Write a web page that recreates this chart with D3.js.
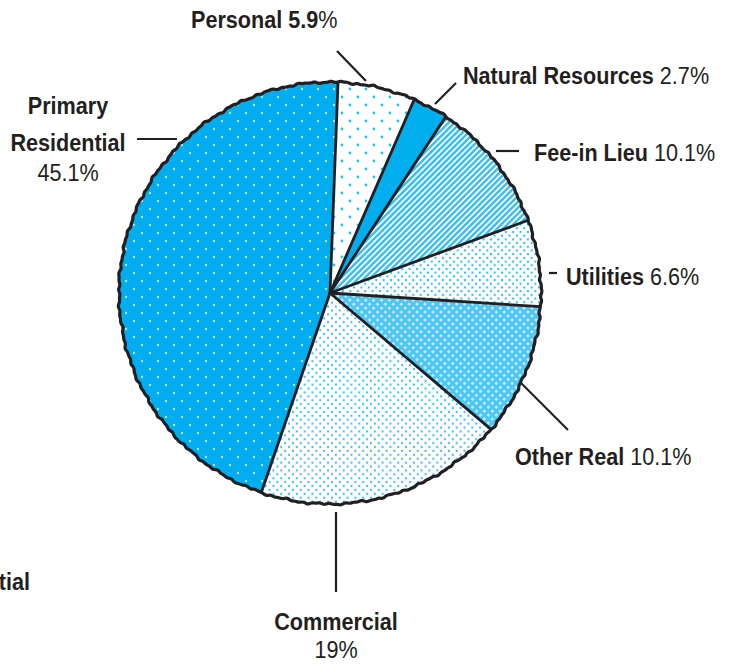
<!DOCTYPE html>
<html>
<head>
<meta charset="utf-8">
<script src="https://cdn.jsdelivr.net/npm/d3@7"></script>
<style>
  body { margin: 0; background: #fff; }
  text { font-family: "Liberation Sans", Arial, Helvetica, sans-serif; fill: #231f20; }
</style>
</head>
<body>
<script>
// values
const categories = ["Personal", "Natural Resources", "Fee-in Lieu", "Utilities", "Other Real", "Commercial", "Primary Residential"];
const shares = [5.9, 2.7, 10.1, 6.6, 10.1, 19, 45.1];
const shareLabels = ["5.9%", "2.7%", "10.1%", "6.6%", "10.1%", "19%", "45.1%"];
const fills = ["url(#dotsSparse)", "#00aeef", "url(#stripes)", "url(#dotsDense)", "url(#cross)", "url(#dotsDense2)", "url(#dotsOnBlue)"];

// label placement (layout only)
const labelLayout = [
  { lines: [[["Personal 5.9", "b"], ["%", "r"]]], x: 191, y: 28, anchor: "start", leader: [[337, 51], [366, 81]] },
  { lines: [[["Natural Resources", "b"], [" 2.7%", "r"]]], x: 463, y: 84, anchor: "start", leader: [[456, 83], [435, 104]] },
  { lines: [[["Fee-in Lieu", "b"], [" 10.1%", "r"]]], x: 534, y: 161, anchor: "start", leader: [[496, 151], [519, 151]] },
  { lines: [[["Utilities", "b"], [" 6.6%", "r"]]], x: 566, y: 285, anchor: "start", leader: [[549, 273], [557, 273]] },
  { lines: [[["Other Real", "b"], [" 10.1%", "r"]]], x: 515, y: 465, anchor: "start", leader: [[520, 382], [568, 430]] },
  { lines: [[["Commercial", "b"]], [["19%", "r"]]], x: 336, y: 630, anchor: "middle", leader: [[336, 512], [336, 592]] },
  { lines: [[["Primary", "b"]], [["Residential", "b"]], [["45.1%", "r"]]], x: 68, y: 114, anchor: "middle", leader: [[137, 139], [177, 139]], gaps: [37, 30] }
];

const W = 734, H = 665;
const cx = 330, cy = 293, R = 211;

const svg = d3.select("body").append("svg")
  .attr("width", W)
  .attr("height", H);

const defs = svg.append("defs");
const blue = "#00aeef";
const dotBlue = "#33bcef";

function dotPattern(id, size, r, bg, fg) {
  const p = defs.append("pattern").attr("id", id)
    .attr("patternUnits", "userSpaceOnUse")
    .attr("width", size).attr("height", size);
  p.append("rect").attr("width", size).attr("height", size).attr("fill", bg);
  p.append("circle").attr("cx", size / 4).attr("cy", size / 4).attr("r", r).attr("fill", fg);
  p.append("circle").attr("cx", size * 3 / 4).attr("cy", size * 3 / 4).attr("r", r).attr("fill", fg);
}
dotPattern("dotsOnBlue", 16, 1.2, blue, "#a9e4f9");
dotPattern("dotsSparse", 16, 1.4, "#fff", dotBlue);
dotPattern("dotsDense", 7.4, 1.15, "#fff", dotBlue);
dotPattern("dotsDense2", 7.8, 1.1, "#fff", dotBlue);

const st = defs.append("pattern").attr("id", "stripes")
  .attr("patternUnits", "userSpaceOnUse")
  .attr("width", 4.2).attr("height", 4.2)
  .attr("patternTransform", "rotate(-45)");
st.append("rect").attr("width", 4.2).attr("height", 4.2).attr("fill", "#fff");
st.append("rect").attr("width", 4.2).attr("height", 2.5).attr("fill", "#3ec0f0");

const cr = defs.append("pattern").attr("id", "cross")
  .attr("patternUnits", "userSpaceOnUse")
  .attr("width", 5.6).attr("height", 5.6)
  .attr("patternTransform", "rotate(45)");
cr.append("rect").attr("width", 5.6).attr("height", 5.6).attr("fill", "#4ec5f2");
cr.append("rect").attr("x", 1).attr("y", 1).attr("width", 2.6).attr("height", 2.6).attr("fill", "#c9eefb");

const data = categories.map((c, i) => ({ name: c, value: shares[i], fill: fills[i] }));

const start = 0.038;
const pie = d3.pie().sort(null).value(d => d.value)
  .startAngle(start).endAngle(start + 2 * Math.PI);
const arcs = pie(data);

const arc = d3.arc().innerRadius(0).outerRadius(R);

const g = svg.append("g").attr("transform", `translate(${cx},${cy})`);

g.selectAll("path.slice")
  .data(arcs)
  .enter()
  .append("path")
  .attr("class", "slice")
  .attr("d", arc)
  .attr("fill", d => d.data.fill)
  .attr("stroke", d => d.data.fill.startsWith("#") ? d.data.fill : "none")
  .attr("stroke-width", 0.5);

// separators
g.selectAll("line.sep")
  .data(arcs)
  .enter()
  .append("line")
  .attr("x1", 0).attr("y1", 0)
  .attr("x2", d => R * Math.sin(d.startAngle))
  .attr("y2", d => -R * Math.cos(d.startAngle))
  .attr("stroke", "#231f20")
  .attr("stroke-width", 2.8)
  .attr("stroke-linecap", "round");

// slightly rough outer edge like the printed original
const angles = d3.range(0, 2 * Math.PI, Math.PI / 360);
const rough = d3.lineRadial()
  .angle(a => a)
  .radius(a => R + 0.5 * Math.sin(a * 37) + 0.45 * Math.sin(a * 89 + 2) + 0.35 * Math.sin(a * 157 + 0.5))
  .curve(d3.curveCardinalClosed);
g.append("path")
  .attr("d", rough(angles))
  .attr("fill", "none")
  .attr("stroke", "#231f20")
  .attr("stroke-width", 3.2);

// labels
const fs = 24;
labelLayout.forEach(l => {
  svg.append("line")
    .attr("x1", l.leader[0][0]).attr("y1", l.leader[0][1])
    .attr("x2", l.leader[1][0]).attr("y2", l.leader[1][1])
    .attr("stroke", "#231f20")
    .attr("stroke-width", 2.2);
  let y = l.y;
  l.lines.forEach((line, k) => {
    if (k > 0) y += l.gaps ? l.gaps[k - 1] : 28;
    const t = svg.append("text")
      .attr("transform", `translate(${l.x},${y}) scale(0.9,1)`)
      .attr("text-anchor", l.anchor)
      .style("font-size", fs + "px");
    line.forEach(p => {
      t.append("tspan").text(p[0]).style("font-weight", p[1] == "b" ? "bold" : "normal");
    });
  });
});

// stray clipped label at the left edge of the original
svg.append("text")
  .attr("transform", "translate(30,590) scale(0.9,1)")
  .attr("text-anchor", "end")
  .style("font-size", fs + "px")
  .style("font-weight", "bold")
  .text("Residential");
</script>
</body>
</html>
